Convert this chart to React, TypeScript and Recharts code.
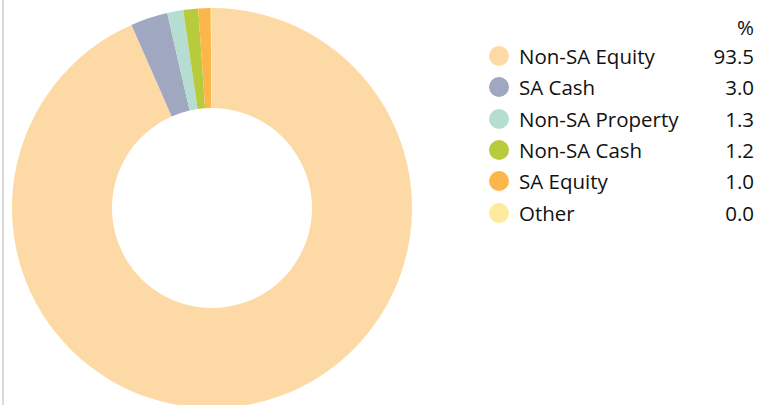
import React from "react";
import { PieChart, Pie, Cell } from "recharts";

const categories = ["Non-SA Equity", "SA Cash", "Non-SA Property", "Non-SA Cash", "SA Equity", "Other"];
// pie values; "Other" rounds to 0.0 but still shows as a hairline slice
const values = [93.5, 3.0, 1.3, 1.2, 1.0, 0.1];
const valueLabels = ["93.5", "3.0", "1.3", "1.2", "1.0", "0.0"];
const colors = ["#FDDAA5", "#9FA7C1", "#B5DDD1", "#B8CB3C", "#FDB64A", "#FFE99A"];

const data = categories.map((name, i) => ({ name, value: values[i], label: valueLabels[i] }));

const font = "'Open Sans', sans-serif";

export default function App() {
  return (
    <div style={{ position: "absolute", left: 0, top: 0, width: 768, height: 405, background: "#fff", overflow: "hidden" }}>
      <div style={{ position: "absolute", left: 2, top: 0, width: 2, height: 405, background: "#D9D9D9" }} />
      <PieChart width={768} height={405} margin={{ top: 0, right: 0, bottom: 0, left: 0 }}>
        <Pie
          data={data}
          dataKey="value"
          nameKey="name"
          cx={212}
          cy={208}
          innerRadius={100}
          outerRadius={200}
          startAngle={90}
          endAngle={-270}
          stroke="none"
          isAnimationActive={false}
        >
          {data.map((d, i) => (
            <Cell key={d.name} fill={colors[i]} />
          ))}
        </Pie>
      </PieChart>
      <div style={{ position: "absolute", left: 0, top: 0, fontFamily: font, fontSize: 20.5, color: "#111" }}>
        <div style={{ position: "absolute", left: 700, width: 54, top: 14, textAlign: "right", lineHeight: "26px" }}>%</div>
        {data.map((d, i) => (
          <div key={d.name} style={{ position: "absolute", left: 488, top: 43 + i * 31.3, width: 266, height: 26, lineHeight: "26px", whiteSpace: "nowrap" }}>
            <span style={{ position: "absolute", left: 1, top: 3, width: 20, height: 20, borderRadius: 10, background: colors[i] }} />
            <span style={{ position: "absolute", left: 31 }}>{d.name}</span>
            <span style={{ position: "absolute", right: 0 }}>{d.label}</span>
          </div>
        ))}
      </div>
    </div>
  );
}
